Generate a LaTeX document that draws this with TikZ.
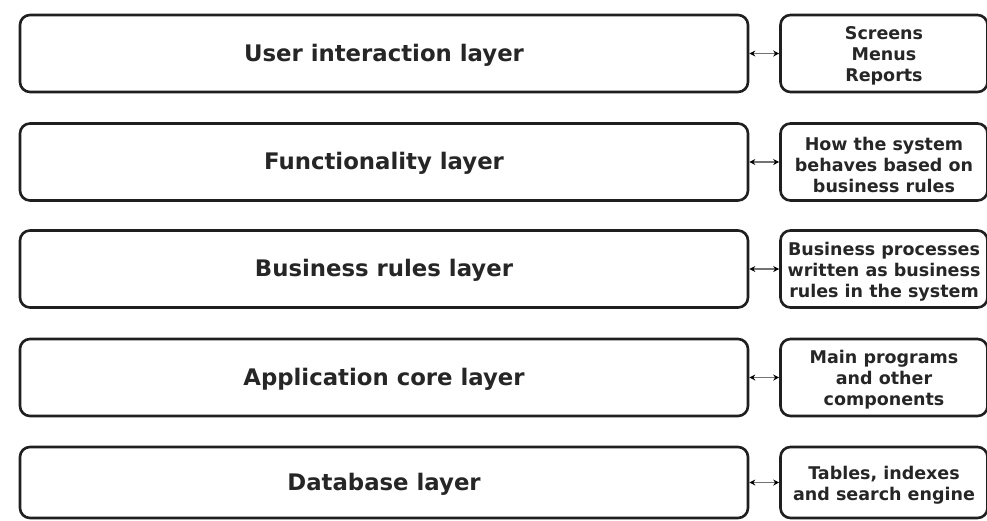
\documentclass[tikz,border=0pt]{standalone}
\usepackage{fontspec}
\setmainfont{DejaVu Sans}
\usetikzlibrary{arrows.meta}
\begin{document}
\begin{tikzpicture}[x=1pt,y=-1pt,
  layerbox/.style={draw=black!88, line width=2.6pt, rounded corners=10pt, minimum width=728pt, minimum height=77pt, inner sep=0pt, text height=17pt, text depth=1.8pt, font=\bfseries\fontsize{22.8}{27}\selectfont, text=black!85},
  descbox/.style={draw=black!88, line width=2.6pt, rounded corners=10pt, minimum width=207pt, minimum height=77pt, inner sep=0pt},
  desctext/.style={inner sep=0pt, align=center, font=\bfseries\fontsize{17.5}{21}\selectfont, text=black!85},
  link/.style={draw=black!55, line width=1.2pt, {Stealth[length=6pt,width=6pt,black]}-{Stealth[length=6pt,width=6pt,black]}}
]
\useasboundingbox (0,0) rectangle (987,520);
\node[layerbox] (l1) at (384,53.5) {User interaction layer};
\node[layerbox] (l2) at (384,162) {Functionality layer};
\node[layerbox] (l3) at (384,269) {Business rules layer};
\node[layerbox] (l4) at (384,377.5) {Application core layer};
\node[layerbox, minimum height=71pt] (l5) at (384,482.5) {Database layer};
\node[descbox] (d1) at (884,53.5) {};
\node[descbox] (d2) at (884,162) {};
\node[descbox] (d3) at (884,269) {};
\node[descbox] (d4) at (884,377.5) {};
\node[descbox, minimum height=71pt] (d5) at (884,482.5) {};
\node[desctext] (t1) at ([yshift=-2.5pt]d1.center) {Screens\\Menus\\Reports};
\node[desctext] (t2) at ([yshift=-2.5pt]d2.center) {How the system\\behaves based on\\business rules};
\node[desctext] (t3) at ([yshift=-2.5pt]d3.center) {Business processes\\written as business\\rules in the system};
\node[desctext] (t4) at ([yshift=-2.5pt]d4.center) {Main programs\\and other\\components};
\node[desctext] (t5) at ([yshift=-2.5pt]d5.center) {Tables, indexes\\and search engine};
\foreach \i in {1,...,5} {
  \draw[link] (l\i.east) -- (d\i.west);
}
\end{tikzpicture}
\end{document}
